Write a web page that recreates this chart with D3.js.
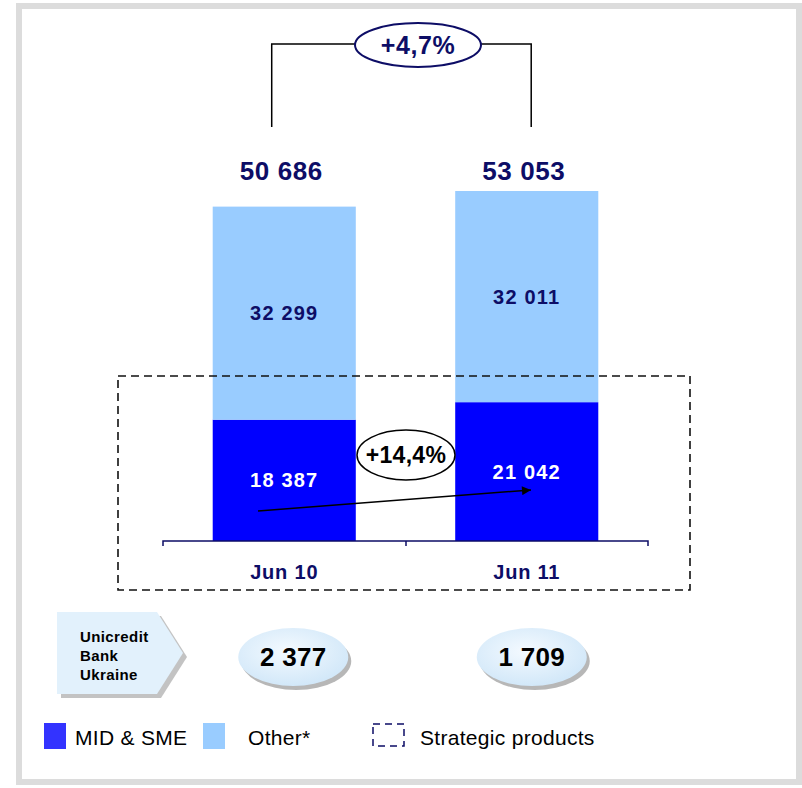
<!DOCTYPE html>
<html><head><meta charset="utf-8">
<script src="https://cdn.jsdelivr.net/npm/d3@7"></script>
<style>body{margin:0;background:#fff}svg{display:block;font-family:Arial,"Liberation Sans",sans-serif}</style>
</head><body><svg id="c" width="802" height="788"></svg>
<script>
const categories = ["Jun 10", "Jun 11"];
const midSme = [18387, 21042];
const other = [32299, 32011];
const totals = [50686, 53053];
const ukraine = [2377, 1709];
const growthTotal = "+4,7%";
const growthMid = "+14,4%";
const legendLabels = ["MID & SME", "Other*", "Strategic products"];

const fmt = v => d3.format(",")(v).replace(/,/g, " ");
const svg = d3.select("#c");
const navy = "#0d0d66";

// frame
svg.append("rect").attr("x",19).attr("y",6).attr("width",780).attr("height",776)
  .attr("fill","#fff").attr("stroke","#dcdcdc").attr("stroke-width",6);

const x = d3.scaleBand().domain(categories).range([163,648]).paddingInner(0.41).paddingOuter(0.205);
const y = d3.scaleLinear().domain([0, 53053]).range([541, 191]);

const defs = svg.append("defs");
defs.append("marker").attr("id","ah").attr("viewBox","0 0 10 10").attr("refX",10).attr("refY",5)
  .attr("markerWidth",12).attr("markerHeight",9).attr("markerUnits","userSpaceOnUse").attr("orient","auto")
  .append("path").attr("d","M0,0L10,5L0,10z").attr("fill","#000");
const grad = defs.append("radialGradient").attr("id","eg").attr("cx","45%").attr("cy","40%").attr("r","65%");
grad.append("stop").attr("offset","0%").attr("stop-color","#f4faff");
grad.append("stop").attr("offset","100%").attr("stop-color","#cfe6f8");

// bars
const stack = categories.map((c,i)=>({c, mid: midSme[i], oth: other[i], tot: totals[i]}));
svg.selectAll(".mid").data(stack).join("rect")
  .attr("x",d=>x(d.c)).attr("width",x.bandwidth())
  .attr("y",d=>y(d.mid)).attr("height",d=>y(0)-y(d.mid)).attr("fill","#0000ff");
svg.selectAll(".oth").data(stack).join("rect")
  .attr("x",d=>x(d.c)).attr("width",x.bandwidth())
  .attr("y",d=>y(d.mid+d.oth)).attr("height",d=>y(d.mid)-y(d.mid+d.oth)).attr("fill","#99ccff");

// segment labels
svg.selectAll(".ol").data(stack).join("text")
  .attr("x",d=>x(d.c)+x.bandwidth()/2).attr("y",d=>(y(d.mid)+y(d.mid+d.oth))/2+7)
  .attr("text-anchor","middle").attr("font-size",20).attr("letter-spacing",1.2).attr("font-weight","bold").attr("fill",navy)
  .text(d=>fmt(d.oth));
svg.selectAll(".ml").data(stack).join("text")
  .attr("x",d=>x(d.c)+x.bandwidth()/2).attr("y",d=>(y(d.mid)+y(0))/2+7)
  .attr("text-anchor","middle").attr("font-size",20).attr("letter-spacing",1.2).attr("font-weight","bold").attr("fill","#fff")
  .text(d=>fmt(d.mid));
// totals
svg.selectAll(".tl").data(stack).join("text")
  .attr("x",d=>x(d.c)+x.bandwidth()/2-3).attr("y",d=>y(0)-361)
  .attr("text-anchor","middle").attr("font-size",26).attr("letter-spacing",0.6).attr("font-weight","bold").attr("fill",navy)
  .text(d=>fmt(d.tot));

// axis
const ax = svg.append("g").attr("stroke",navy).attr("stroke-width",1.5).attr("fill","none");
ax.append("path").attr("d",`M163,546V541H648V546M406,541V546`);
svg.selectAll(".cl").data(categories).join("text")
  .attr("x",d=>x(d)+x.bandwidth()/2).attr("y",579).attr("text-anchor","middle")
  .attr("font-size",20).attr("letter-spacing",0.8).attr("font-weight","bold").attr("fill",navy).text(d=>d);

// strategic dashed box
svg.append("rect").attr("x",118).attr("y",376).attr("width",572).attr("height",214)
  .attr("fill","none").attr("stroke","#111").attr("stroke-width",1.6).attr("stroke-dasharray","8,5");

// bracket
const bx1 = x(categories[0])+59, bx2 = x(categories[1])+76;
svg.append("path").attr("d",`M${bx1},127V44H355M481,44H${bx2}V127`).attr("fill","none").attr("stroke","#000").attr("stroke-width",1.5);
svg.append("ellipse").attr("cx",418).attr("cy",45).attr("rx",63).attr("ry",22).attr("fill","#fff").attr("stroke",navy).attr("stroke-width",2);
svg.append("text").attr("x",418).attr("y",54).attr("text-anchor","middle").attr("font-size",25).attr("letter-spacing",0.6).attr("font-weight","bold").attr("fill",navy).text(growthTotal);

// arrow
svg.append("line").attr("x1",258).attr("y1",511).attr("x2",531).attr("y2",490)
  .attr("stroke","#000").attr("stroke-width",1.5).attr("marker-end","url(#ah)");
svg.append("ellipse").attr("cx",406).attr("cy",455).attr("rx",49).attr("ry",25).attr("fill","#fff").attr("stroke","#000").attr("stroke-width",1.5);
svg.append("text").attr("x",406).attr("y",463).attr("text-anchor","middle").attr("font-size",23).attr("letter-spacing",0.3).attr("font-weight","bold").attr("fill","#000").text(growthMid);

// Unicredit pentagon
const pent = "M0,0H100L126,41L100,82H0Z";
svg.append("path").attr("d",pent).attr("transform","translate(61,616)").attr("fill","#aaa").attr("opacity",0.7);
svg.append("path").attr("d",pent).attr("transform","translate(57,612)").attr("fill","#e2f1fc");
["Unicredit","Bank","Ukraine"].forEach((t,i)=>svg.append("text").attr("x",80).attr("y",642+i*19)
  .attr("font-size",15).attr("letter-spacing",0.4).attr("font-weight","bold").attr("fill","#000").text(t));

// Ukraine ellipses
const ux = categories.map(c=>x(c)+x.bandwidth()/2+(c===categories[0]?9:5));
svg.selectAll(".us").data(ukraine).join("ellipse").attr("cx",(d,i)=>ux[i]+3).attr("cy",661)
  .attr("rx",55).attr("ry",29).attr("fill","#999").attr("opacity",0.7);
svg.selectAll(".ue").data(ukraine).join("ellipse").attr("cx",(d,i)=>ux[i]).attr("cy",657)
  .attr("rx",55).attr("ry",29).attr("fill","url(#eg)");
svg.selectAll(".ut").data(ukraine).join("text").attr("x",(d,i)=>ux[i]).attr("y",666)
  .attr("text-anchor","middle").attr("font-size",26).attr("letter-spacing",0.3).attr("font-weight","bold").attr("fill","#000").text(d=>fmt(d));

// legend
svg.append("rect").attr("x",44).attr("y",723).attr("width",22).attr("height",26).attr("fill","#3333ff");
svg.append("rect").attr("x",203).attr("y",723).attr("width",22).attr("height",26).attr("fill","#99ccff");
svg.append("rect").attr("x",373).attr("y",724).attr("width",31).attr("height",22).attr("fill","none")
  .attr("stroke",navy).attr("stroke-width",1.5).attr("stroke-dasharray","7,5");
[[75,legendLabels[0]],[248,legendLabels[1]],[420,legendLabels[2]]].forEach(([lx,t])=>
  svg.append("text").attr("x",lx).attr("y",745).attr("font-size",21).attr("letter-spacing",0.3).attr("fill","#000").text(t));
</script></body></html>
